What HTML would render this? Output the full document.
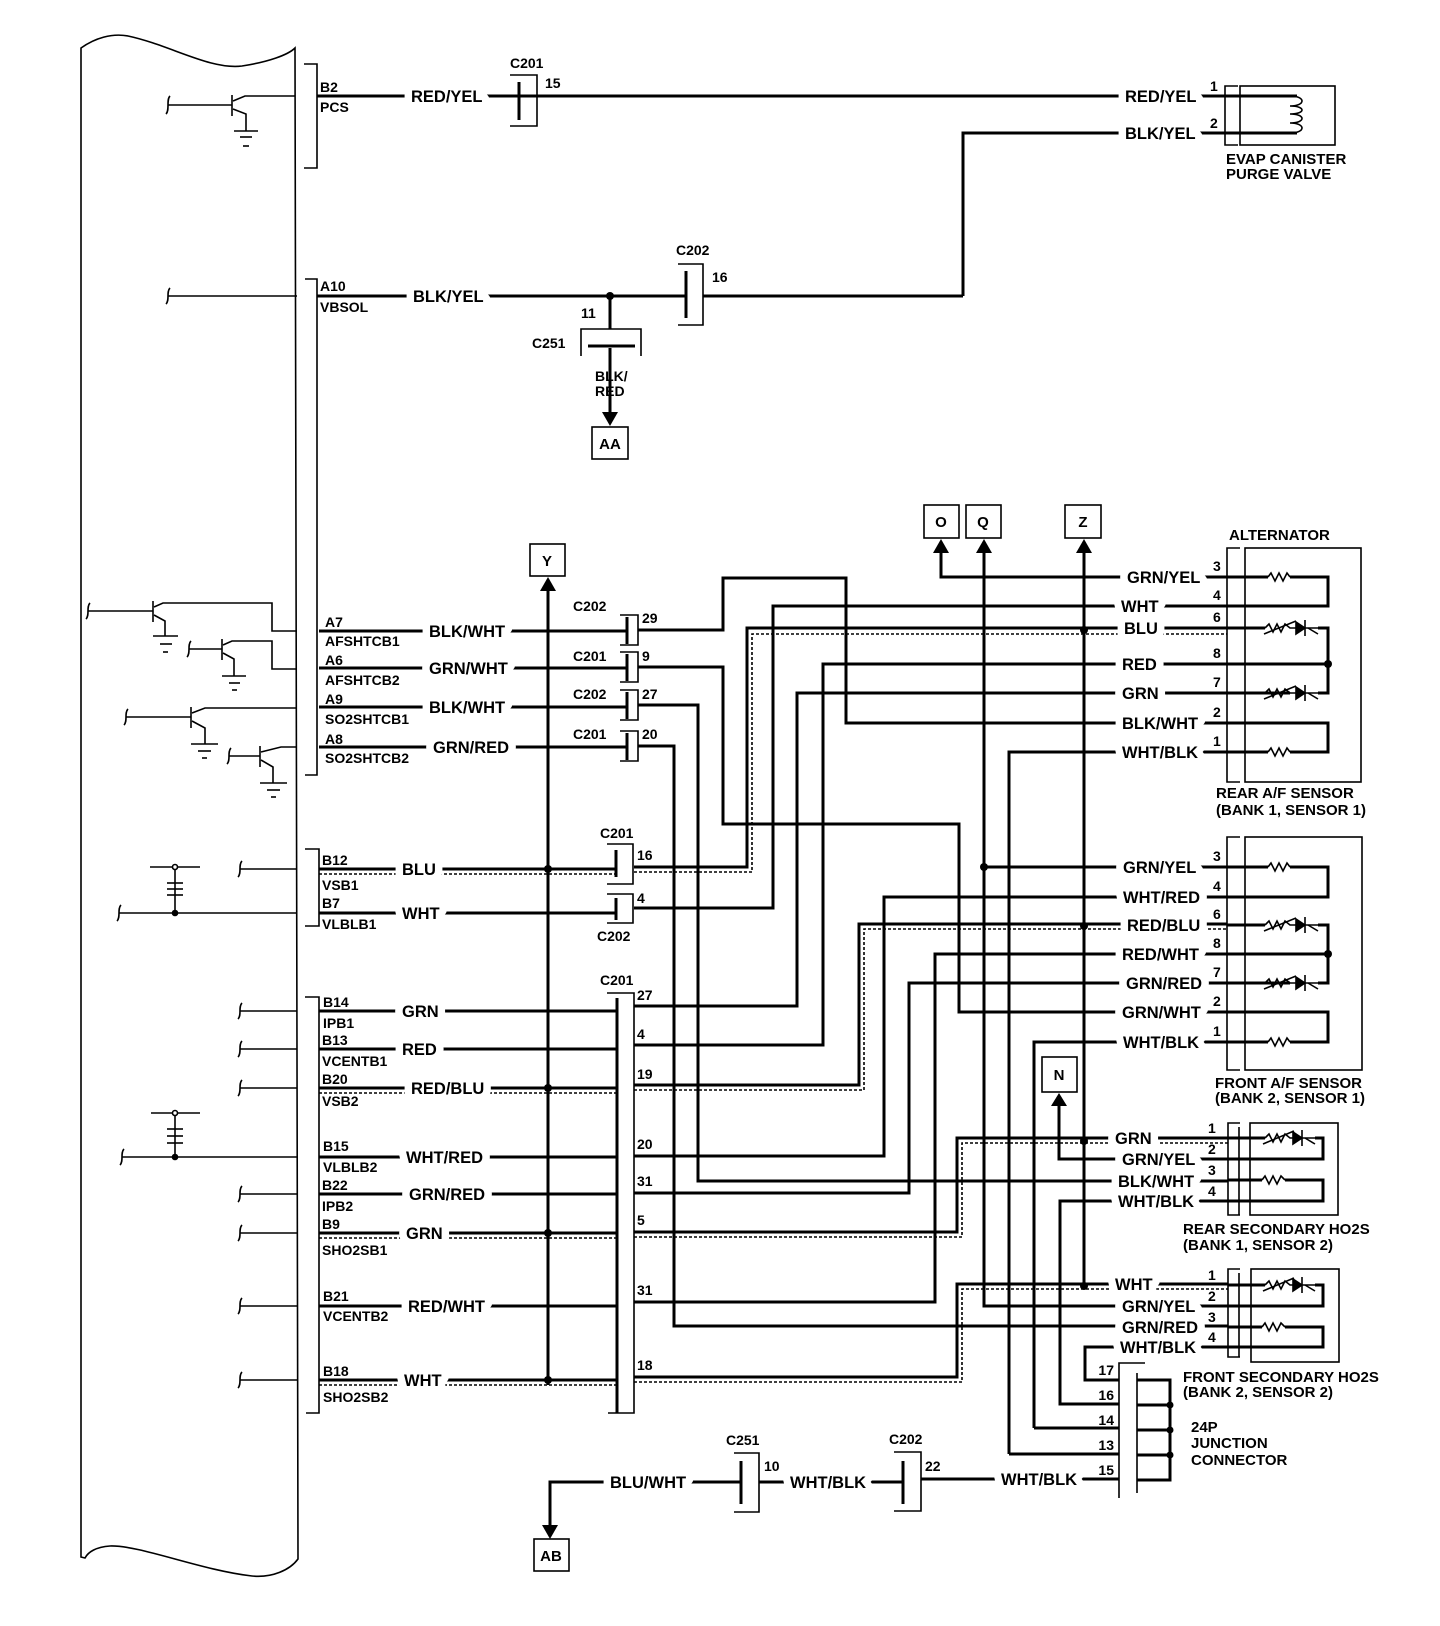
<!DOCTYPE html>
<html><head><meta charset="utf-8"><style>
html,body{margin:0;padding:0;background:#fff}
svg{display:block}
text{font-family:"Liberation Sans",Arial,sans-serif;font-weight:bold;fill:#000}
.w{font-size:16.5px;stroke:#fff;stroke-width:15px;paint-order:stroke;stroke-linejoin:round}
.p{font-size:14px}
.c{font-size:14px}
.n{font-size:14px}
.k{font-size:15px}
.L{fill:none;stroke:#000;stroke-width:3}
.T{fill:none;stroke:#000;stroke-width:1.6}
.D{fill:none;stroke:#000;stroke-width:1.6;stroke-dasharray:3 2}
</style></head><body>
<svg width="1440" height="1626" viewBox="0 0 1440 1626" xmlns="http://www.w3.org/2000/svg">
<path class="T" d="M81,1557 L81,48 C95,38 112,33 128,36 C170,45 210,70 242,66 C268,62 288,55 295,48 L298,1559 C290,1570 272,1578 252,1576 C200,1570 140,1545 110,1546 C96,1547 88,1552 85,1558 Z"/>
<path class="T" d="M304,64 H317 V168 H304"/>
<path class="T" d="M305,279 H317 V775 H305"/>
<path class="T" d="M305,849 H319 V926 H305"/>
<path class="T" d="M305,997 H319 V1413 H306"/>

<g class="T">
<path d="M170,96 C166,100 170,110 166,114"/>
<line x1="168" y1="105" x2="232" y2="105"/>
<line x1="232" y1="95" x2="232" y2="116"/>
<path d="M233,101 L245,96 H295"/>
<path d="M233,109 L246,114 V131"/>
<line x1="234" y1="131" x2="258" y2="131"/><line x1="240" y1="137" x2="252" y2="137"/><line x1="243" y1="146" x2="249" y2="146"/>
</g>
<g class="T"><path d="M170,288 C166,292 170,300 166,304"/><line x1="168" y1="296" x2="297" y2="296"/></g>
<g class="T">
<path d="M90,603 C86,607 90,615 86,619"/><line x1="88" y1="611" x2="153" y2="611"/><line x1="153" y1="601" x2="153" y2="622"/>
<path d="M154,607 L163,603 H272 V631 H297"/><path d="M154,615 L165,621 V636"/>
<line x1="153" y1="636" x2="178" y2="636"/><line x1="160" y1="644" x2="172" y2="644"/><line x1="163" y1="652" x2="168" y2="652"/>
<path d="M191,641 C187,645 191,653 187,657"/><line x1="189" y1="649" x2="222" y2="649"/><line x1="222" y1="639" x2="222" y2="660"/>
<path d="M223,645 L232,641 H272 V669 H297"/><path d="M223,653 L234,659 V676"/>
<line x1="222" y1="676" x2="246" y2="676"/><line x1="229" y1="683" x2="240" y2="683"/><line x1="232" y1="690" x2="237" y2="690"/>
<path d="M128,709 C124,713 128,721 124,725"/><line x1="126" y1="717" x2="191" y2="717"/><line x1="191" y1="707" x2="191" y2="728"/>
<path d="M192,713 L205,708 H297"/><path d="M192,721 L205,728 V744"/>
<line x1="191" y1="744" x2="218" y2="744"/><line x1="198" y1="751" x2="211" y2="751"/><line x1="202" y1="758" x2="207" y2="758"/>
<path d="M231,748 C227,752 231,760 227,764"/><line x1="229" y1="756" x2="260" y2="756"/><line x1="260" y1="746" x2="260" y2="767"/>
<path d="M261,752 L281,747 H297"/><path d="M261,760 L273,767 V783"/>
<line x1="260" y1="783" x2="287" y2="783"/><line x1="267" y1="790" x2="280" y2="790"/><line x1="271" y1="797" x2="276" y2="797"/>
</g>
<g class="T">
<path d="M242,861 C238,865 242,873 238,877"/><line x1="240" y1="869" x2="297" y2="869"/>
<path d="M121,905 C117,909 121,917 117,921"/><line x1="119" y1="913" x2="297" y2="913"/>
<line x1="150" y1="867" x2="200" y2="867"/><line x1="175" y1="867" x2="175" y2="913"/>
<line x1="167" y1="883" x2="183" y2="883"/><line x1="167" y1="889" x2="183" y2="889"/><line x1="167" y1="895" x2="183" y2="895"/>
<circle cx="175" cy="867" r="2.5" fill="#fff"/><circle cx="175" cy="913" r="2.5" fill="#000"/>
</g>
<g class="T">
<path d="M242,1003 C238,1007 242,1015 238,1019"/><line x1="240" y1="1011" x2="297" y2="1011"/>
<path d="M242,1041 C238,1045 242,1053 238,1057"/><line x1="240" y1="1049" x2="297" y2="1049"/>
<path d="M242,1080 C238,1084 242,1092 238,1096"/><line x1="240" y1="1088" x2="297" y2="1088"/>
<path d="M124,1149 C120,1153 124,1161 120,1165"/><line x1="122" y1="1157" x2="297" y2="1157"/>
<line x1="151" y1="1113" x2="200" y2="1113"/><line x1="175" y1="1113" x2="175" y2="1157"/>
<line x1="167" y1="1129" x2="183" y2="1129"/><line x1="167" y1="1136" x2="183" y2="1136"/><line x1="167" y1="1143" x2="183" y2="1143"/>
<circle cx="175" cy="1113" r="2.5" fill="#fff"/><circle cx="175" cy="1157" r="2.5" fill="#000"/>
<path d="M242,1186 C238,1190 242,1198 238,1202"/><line x1="240" y1="1194" x2="297" y2="1194"/>
<path d="M242,1225 C238,1229 242,1237 238,1241"/><line x1="240" y1="1233" x2="297" y2="1233"/>
<path d="M242,1298 C238,1302 242,1310 238,1314"/><line x1="240" y1="1306" x2="297" y2="1306"/>
<path d="M242,1372 C238,1376 242,1384 238,1388"/><line x1="240" y1="1380" x2="297" y2="1380"/>
</g>

<g class="p">
<text x="320" y="92">B2</text><text x="320" y="112">PCS</text>
<text x="320" y="291">A10</text><text x="320" y="312">VBSOL</text>
<text x="325" y="627">A7</text><text x="325" y="646">AFSHTCB1</text>
<text x="325" y="665">A6</text><text x="325" y="685">AFSHTCB2</text>
<text x="325" y="704">A9</text><text x="325" y="724">SO2SHTCB1</text>
<text x="325" y="744">A8</text><text x="325" y="763">SO2SHTCB2</text>
<text x="322" y="865">B12</text><text x="322" y="890">VSB1</text>
<text x="322" y="908">B7</text><text x="322" y="929">VLBLB1</text>
<text x="323" y="1007">B14</text><text x="323" y="1028">IPB1</text>
<text x="322" y="1045">B13</text><text x="322" y="1066">VCENTB1</text>
<text x="322" y="1084">B20</text><text x="322" y="1106">VSB2</text>
<text x="323" y="1151">B15</text><text x="323" y="1172">VLBLB2</text>
<text x="322" y="1190">B22</text><text x="322" y="1211">IPB2</text>
<text x="322" y="1229">B9</text><text x="322" y="1255">SHO2SB1</text>
<text x="323" y="1301">B21</text><text x="323" y="1321">VCENTB2</text>
<text x="323" y="1376">B18</text><text x="323" y="1402">SHO2SB2</text>
</g>

<g class="L">
<path d="M317,96 H1224"/>
<path d="M963,296 V133 H1224"/>
<path d="M317,296 H686"/><path d="M703,296 H963"/>
<path d="M610,296 V329"/><path d="M610,348 V414"/>
<path d="M319,631 H627"/><path d="M319,668 H627"/><path d="M319,707 H627"/><path d="M319,747 H627"/>
<path d="M638,630 H723 V578 H846 V723 H1227"/>
<path d="M638,667 H723 V824 H959 V1012 H1227"/>
<path d="M638,705 H698 V1181 H1228"/>
<path d="M638,746 H674 V1326 H1228"/>
<path d="M319,869 H616"/><path d="M319,913 H616"/>
<path d="M319,1011 H616"/><path d="M319,1049 H616"/><path d="M319,1088 H616"/>
<path d="M319,1157 H616"/><path d="M319,1194 H616"/><path d="M319,1233 H616"/>
<path d="M319,1306 H616"/><path d="M319,1380 H616"/>
<path d="M634,867 H747 V628 H1227"/>
<path d="M634,908 H773 V606 H1227"/>
<path d="M634,1045 H823 V664 H1227"/>
<path d="M634,1006 H797 V693 H1227"/>
<path d="M1009,1454 V752 H1227"/>
<path d="M941,545 V577 H1227"/>
<path d="M984,545 V1306 H1228"/>
<path d="M1084,545 V1284"/>
<path d="M984,867 H1227"/>
<path d="M634,1156 H884 V897 H1227"/>
<path d="M634,1085 H859 V924 H1227"/>
<path d="M634,1302 H935 V954 H1227"/>
<path d="M634,1193 H909 V983 H1227"/>
<path d="M1034,1428 V1042 H1227"/>
<path d="M634,1232 H957 V1138 H1228"/>
<path d="M1059,1104 V1159 H1228"/>
<path d="M1228,1201 H1060 V1404 H1119"/>
<path d="M634,1377 H957 V1284 H1228"/>
<path d="M1228,1347 H1085 V1380 H1119"/>
<path d="M1034,1428 H1119"/><path d="M1009,1454 H1119"/>
<path d="M921,1479 H1119"/>
<path d="M550,1526 V1482 H741"/><path d="M759,1482 H903"/>
<path d="M548,588 V1385"/>
</g>
<g class="D">
<path d="M319,874 H616"/><path d="M319,1093 H616"/><path d="M319,1238 H616"/><path d="M319,1385 H616"/>
<path d="M634,872 H752 V634 H1227"/>
<path d="M634,1090 H864 V929 H1227"/>
<path d="M634,1237 H962 V1143 H1228"/>
<path d="M634,1382 H962 V1289 H1228"/>
</g>
<g fill="#000">
<circle cx="610" cy="296" r="4"/>
<circle cx="548" cy="869" r="4"/><circle cx="548" cy="1088" r="4"/><circle cx="548" cy="1233" r="4"/><circle cx="548" cy="1380" r="4"/>
<circle cx="1084" cy="630" r="4"/><circle cx="1084" cy="926" r="4"/><circle cx="1084" cy="1141" r="4"/><circle cx="1084" cy="1286" r="4"/>
<circle cx="984" cy="867" r="4"/>
<polygon points="941,539 933,553 949,553"/>
<polygon points="984,539 976,553 992,553"/>
<polygon points="1084,539 1076,553 1092,553"/>
<polygon points="548,577 540,591 556,591"/>
<polygon points="1059,1093 1051,1106 1067,1106"/>
<polygon points="610,426 602,412 618,412"/>
<polygon points="550,1539 542,1525 558,1525"/>
</g>

<g class="T">
<path d="M510,75 H537 V126 H510"/>
<path d="M678,264 H703 V325 H678"/>
<path d="M581,356 V329 H641 V356"/>
<path d="M620,615 H638 V645 H620"/><path d="M620,652 H638 V682 H620"/>
<path d="M620,690 H638 V720 H620"/><path d="M620,731 H638 V761 H620"/>
<path d="M607,844 H633 V884 H607"/>
<path d="M607,894 H633 V923 H607"/>
<path d="M607,993 H634 V1413 H608"/>
<path d="M734,1453 H759 V1512 H734"/>
<path d="M894,1452 H921 V1511 H894"/>
</g>
<g class="L">
<line x1="519" y1="82" x2="519" y2="120"/>
<line x1="686" y1="271" x2="686" y2="318"/>
<line x1="588" y1="346" x2="635" y2="346"/>
<line x1="627" y1="617" x2="627" y2="644"/><line x1="627" y1="654" x2="627" y2="681"/>
<line x1="627" y1="692" x2="627" y2="719"/><line x1="627" y1="733" x2="627" y2="760"/>
<line x1="616" y1="850" x2="616" y2="877"/><line x1="616" y1="898" x2="616" y2="920"/>
<line x1="617" y1="998" x2="617" y2="1413"/>
<line x1="741" y1="1461" x2="741" y2="1504"/><line x1="903" y1="1461" x2="903" y2="1504"/>
</g>
<g class="c">
<text x="510" y="68">C201</text><text x="545" y="88">15</text>
<text x="676" y="255">C202</text><text x="712" y="282">16</text>
<text x="581" y="318">11</text><text x="532" y="348">C251</text>
<text x="595" y="381">BLK/</text><text x="595" y="396">RED</text>
<text x="573" y="611">C202</text><text x="642" y="623">29</text>
<text x="573" y="661">C201</text><text x="642" y="661">9</text>
<text x="573" y="699">C202</text><text x="642" y="699">27</text>
<text x="573" y="739">C201</text><text x="642" y="739">20</text>
<text x="600" y="838">C201</text><text x="637" y="860">16</text>
<text x="637" y="903">4</text><text x="597" y="941">C202</text>
<text x="600" y="985">C201</text>
<text x="637" y="1000">27</text><text x="637" y="1039">4</text><text x="637" y="1079">19</text>
<text x="637" y="1149">20</text><text x="637" y="1186">31</text><text x="637" y="1225">5</text>
<text x="637" y="1295">31</text><text x="637" y="1370">18</text>
<text x="726" y="1445">C251</text><text x="764" y="1471">10</text>
<text x="889" y="1444">C202</text><text x="925" y="1471">22</text>
</g>

<g class="T">
<rect x="592" y="427" width="36" height="32"/>
<rect x="924" y="505" width="35" height="33"/>
<rect x="966" y="505" width="35" height="33"/>
<rect x="1065" y="505" width="36" height="33"/>
<rect x="530" y="544" width="35" height="32"/>
<rect x="1042" y="1057" width="35" height="35"/>
<rect x="534" y="1539" width="35" height="32"/>
</g>
<g class="k" text-anchor="middle">
<text x="610" y="449">AA</text><text x="941" y="527">O</text><text x="983" y="527">Q</text>
<text x="1083" y="527">Z</text><text x="547" y="566">Y</text><text x="1059" y="1080">N</text><text x="551" y="1561">AB</text>
</g>

<g class="w">
<text x="411" y="102">RED/YEL</text>
<text x="413" y="302">BLK/YEL</text>
<text x="429" y="637">BLK/WHT</text>
<text x="429" y="674">GRN/WHT</text>
<text x="429" y="713">BLK/WHT</text>
<text x="433" y="753">GRN/RED</text>
<text x="402" y="875">BLU</text>
<text x="402" y="919">WHT</text>
<text x="402" y="1017">GRN</text>
<text x="402" y="1055">RED</text>
<text x="411" y="1094">RED/BLU</text>
<text x="406" y="1163">WHT/RED</text>
<text x="409" y="1200">GRN/RED</text>
<text x="406" y="1239">GRN</text>
<text x="408" y="1312">RED/WHT</text>
<text x="404" y="1386">WHT</text>
<text x="1125" y="102">RED/YEL</text>
<text x="1125" y="139">BLK/YEL</text>
<text x="1127" y="583">GRN/YEL</text>
<text x="1121" y="612">WHT</text>
<text x="1124" y="634">BLU</text>
<text x="1122" y="670">RED</text>
<text x="1122" y="699">GRN</text>
<text x="1122" y="729">BLK/WHT</text>
<text x="1122" y="758">WHT/BLK</text>
<text x="1123" y="873">GRN/YEL</text>
<text x="1123" y="903">WHT/RED</text>
<text x="1127" y="931">RED/BLU</text>
<text x="1122" y="960">RED/WHT</text>
<text x="1126" y="989">GRN/RED</text>
<text x="1122" y="1018">GRN/WHT</text>
<text x="1123" y="1048">WHT/BLK</text>
<text x="1115" y="1144">GRN</text>
<text x="1122" y="1165">GRN/YEL</text>
<text x="1118" y="1187">BLK/WHT</text>
<text x="1118" y="1207">WHT/BLK</text>
<text x="1115" y="1290">WHT</text>
<text x="1122" y="1312">GRN/YEL</text>
<text x="1122" y="1333">GRN/RED</text>
<text x="1120" y="1353">WHT/BLK</text>
<text x="1001" y="1485">WHT/BLK</text>
<text x="610" y="1488">BLU/WHT</text>
<text x="790" y="1488">WHT/BLK</text>
</g>

<g class="T">
<path d="M1238,86 H1225 V145 H1238"/>
<rect x="1240" y="86" width="95" height="59"/>
</g>
<g class="L"><path d="M1224,96 H1297"/><path d="M1224,133 H1297"/></g>
<path class="T" d="M1290,96 C1306,96 1306,106 1290,106 C1306,106 1306,114 1290,114 C1306,114 1306,123 1290,123 C1306,123 1306,133 1290,133"/>
<g class="n"><text x="1210" y="91">1</text><text x="1210" y="128">2</text></g>
<g class="k"><text x="1226" y="164">EVAP CANISTER</text><text x="1226" y="179">PURGE VALVE</text></g>

<text class="k" x="1229" y="540">ALTERNATOR</text>
<g class="T"><path d="M1240,548 H1227 V782 H1240"/><rect x="1245" y="548" width="116" height="234"/></g>
<g class="L">
<path d="M1227,577 H1268 M1290,577 H1328 V606 H1227"/>
<path d="M1227,628 H1265 M1318,628 H1328 V693 H1318 M1290,693 H1227"/>
<path d="M1227,664 H1328"/>
<path d="M1227,723 H1328 V752 H1290 M1268,752 H1227"/>
</g>
<g class="T">
<polyline points="1268,577 1271,573 1275,581 1279,573 1283,581 1287,573 1290,577"/>
<polyline points="1268,752 1271,748 1275,756 1279,748 1283,756 1287,748 1290,752"/>
<polyline points="1265,628 1269,624 1273,632 1277,624 1281,632 1285,624 1290,628 1318,628"/>
<line x1="1264" y1="634" x2="1296" y2="621"/><line x1="1305" y1="620" x2="1305" y2="636"/><polygon points="1296,622 1305,628 1296,634" fill="#000"/><line x1="1308" y1="628" x2="1318" y2="634"/>
<polyline points="1265,693 1269,689 1273,697 1277,689 1281,697 1285,689 1290,693 1318,693"/>
<line x1="1264" y1="699" x2="1296" y2="686"/><line x1="1305" y1="685" x2="1305" y2="701"/><polygon points="1296,687 1305,693 1296,699" fill="#000"/><line x1="1308" y1="693" x2="1318" y2="699"/>
</g>
<circle cx="1328" cy="664" r="4"/>
<g class="n"><text x="1213" y="571">3</text><text x="1213" y="600">4</text><text x="1213" y="622">6</text><text x="1213" y="658">8</text><text x="1213" y="687">7</text><text x="1213" y="717">2</text><text x="1213" y="746">1</text></g>
<g class="k"><text x="1216" y="798">REAR A/F SENSOR</text><text x="1216" y="815">(BANK 1, SENSOR 1)</text></g>

<g class="T"><path d="M1240,837 H1227 V1070 H1240"/><rect x="1245" y="837" width="117" height="233"/></g>
<g class="L">
<path d="M1227,867 H1268 M1290,867 H1328 V897 H1227"/>
<path d="M1227,925 H1265 M1318,925 H1328 V983 H1318 M1290,983 H1227"/>
<path d="M1227,954 H1328"/>
<path d="M1227,1012 H1328 V1042 H1290 M1268,1042 H1227"/>
</g>
<g class="T">
<polyline points="1268,867 1271,863 1275,871 1279,863 1283,871 1287,863 1290,867"/>
<polyline points="1268,1042 1271,1038 1275,1046 1279,1038 1283,1046 1287,1038 1290,1042"/>
<polyline points="1265,925 1269,921 1273,929 1277,921 1281,929 1285,921 1290,925 1318,925"/>
<line x1="1264" y1="931" x2="1296" y2="918"/><line x1="1305" y1="917" x2="1305" y2="933"/><polygon points="1296,919 1305,925 1296,931" fill="#000"/><line x1="1308" y1="925" x2="1318" y2="931"/>
<polyline points="1265,983 1269,979 1273,987 1277,979 1281,987 1285,979 1290,983 1318,983"/>
<line x1="1264" y1="989" x2="1296" y2="976"/><line x1="1305" y1="975" x2="1305" y2="991"/><polygon points="1296,977 1305,983 1296,989" fill="#000"/><line x1="1308" y1="983" x2="1318" y2="989"/>
</g>
<circle cx="1328" cy="954" r="4"/>
<g class="n"><text x="1213" y="861">3</text><text x="1213" y="891">4</text><text x="1213" y="919">6</text><text x="1213" y="948">8</text><text x="1213" y="977">7</text><text x="1213" y="1006">2</text><text x="1213" y="1036">1</text></g>
<g class="k"><text x="1215" y="1088">FRONT A/F SENSOR</text><text x="1215" y="1103">(BANK 2, SENSOR 1)</text></g>

<g class="T"><path d="M1240,1123 H1228 V1215 H1240 M1239,1127 V1215"/><rect x="1250" y="1123" width="88" height="92"/></g>
<g class="L">
<path d="M1228,1138 H1265 M1315,1138 H1323 V1159 H1228"/>
<path d="M1228,1180 H1262 M1285,1180 H1323 V1201 H1228"/>
</g>
<g class="T">
<polyline points="1265,1138 1269,1134 1273,1142 1277,1134 1281,1142 1285,1134 1290,1138 1315,1138"/>
<line x1="1263" y1="1144" x2="1294" y2="1131"/><line x1="1302" y1="1130" x2="1302" y2="1146"/><polygon points="1293,1132 1302,1138 1293,1144" fill="#000"/><line x1="1305" y1="1138" x2="1315" y2="1144"/>
<polyline points="1262,1180 1265,1176 1269,1184 1273,1176 1277,1184 1281,1176 1285,1180"/>
</g>
<g class="n"><text x="1208" y="1133">1</text><text x="1208" y="1154">2</text><text x="1208" y="1175">3</text><text x="1208" y="1196">4</text></g>
<g class="k"><text x="1183" y="1234">REAR SECONDARY HO2S</text><text x="1183" y="1250">(BANK 1, SENSOR 2)</text></g>

<g class="T"><path d="M1240,1269 H1228 V1357 H1240 M1239,1273 V1357"/><rect x="1251" y="1269" width="88" height="93"/></g>
<g class="L">
<path d="M1228,1285 H1265 M1315,1285 H1323 V1306 H1228"/>
<path d="M1228,1327 H1262 M1285,1327 H1323 V1347 H1228"/>
</g>
<g class="T">
<polyline points="1265,1285 1269,1281 1273,1289 1277,1281 1281,1289 1285,1281 1290,1285 1315,1285"/>
<line x1="1263" y1="1291" x2="1294" y2="1278"/><line x1="1302" y1="1277" x2="1302" y2="1293"/><polygon points="1293,1279 1302,1285 1293,1291" fill="#000"/><line x1="1305" y1="1285" x2="1315" y2="1291"/>
<polyline points="1262,1327 1265,1323 1269,1331 1273,1323 1277,1331 1281,1323 1285,1327"/>
</g>
<g class="n"><text x="1208" y="1280">1</text><text x="1208" y="1301">2</text><text x="1208" y="1322">3</text><text x="1208" y="1342">4</text></g>
<g class="k"><text x="1183" y="1382">FRONT SECONDARY HO2S</text><text x="1183" y="1397">(BANK 2, SENSOR 2)</text></g>

<g class="T"><path d="M1145,1363 H1119 V1498"/><line x1="1137" y1="1373" x2="1137" y2="1493"/></g>
<g class="L"><path d="M1137,1380 H1170 V1480 H1137 M1137,1405 H1170 M1137,1430 H1170 M1137,1455 H1170"/></g>
<circle cx="1170" cy="1405" r="3.5"/><circle cx="1170" cy="1430" r="3.5"/><circle cx="1170" cy="1455" r="3.5"/>
<g class="n" text-anchor="end"><text x="1114" y="1375">17</text><text x="1114" y="1400">16</text><text x="1114" y="1425">14</text><text x="1114" y="1450">13</text><text x="1114" y="1475">15</text></g>
<g class="k"><text x="1191" y="1432">24P</text><text x="1191" y="1448">JUNCTION</text><text x="1191" y="1465">CONNECTOR</text></g>
</svg>
</body></html>
